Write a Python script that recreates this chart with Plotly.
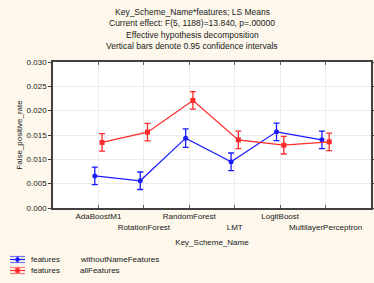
import plotly.graph_objects as go

categories = ["AdaBoostM1", "RotationForest", "RandomForest", "LMT", "LogitBoost", "MultilayerPerceptron"]
without_vals = [0.0066, 0.0056, 0.01435, 0.0095, 0.01565, 0.0140]
without_err = [0.0018, 0.0018, 0.0019, 0.0018, 0.0018, 0.0018]
all_vals = [0.01347, 0.01558, 0.0221, 0.0140, 0.0129, 0.0136]
all_err = [0.0018, 0.0018, 0.0018, 0.0018, 0.0018, 0.0018]
y_ticks = [0.000, 0.005, 0.010, 0.015, 0.020, 0.025, 0.030]
title_lines = ["Key_Scheme_Name*features; LS Means",
               "Current effect: F(5, 1188)=13.840, p=.00000",
               "Effective hypothesis decomposition",
               "Vertical bars denote 0.95 confidence intervals"]
legend_items = [("features", "withoutNameFeatures", "#1a1aff", "circle"),
                ("features", "allFeatures", "#ff2a2a", "square")]

FONT = "Liberation Sans, Arial, sans-serif"
W, H = 374, 283
L, R, T, B = 53, 3, 62, 75
PW, PH = W - L - R, H - T - B


def px(x):
    return (x - L) / PW


def py(y):
    return (H - B - y) / PH


idx = list(range(len(categories)))
tick_text = [c if i % 2 == 0 else "<br>" + c for i, c in enumerate(categories)]

fig = go.Figure()
fig.add_trace(go.Scatter(
    x=[i - 0.08 for i in idx], y=without_vals,
    error_y=dict(type="data", array=without_err, visible=True, color="#1a1aff", thickness=1.3, width=3),
    mode="lines+markers", name="withoutNameFeatures",
    line=dict(color="#1a1aff", width=1.2),
    marker=dict(symbol="circle", size=5, color="#1a1aff"),
))
fig.add_trace(go.Scatter(
    x=[i + 0.08 for i in idx], y=all_vals,
    error_y=dict(type="data", array=all_err, visible=True, color="#ff2a2a", thickness=1.3, width=3),
    mode="lines+markers", name="allFeatures",
    line=dict(color="#ff2a2a", width=1.2),
    marker=dict(symbol="square", size=5, color="#ff2a2a"),
))

annotations = []
for k, line in enumerate(title_lines):
    annotations.append(dict(text=line, xref="paper", yref="paper", x=px(192), y=py(12 + 11.5 * k),
                            xanchor="center", yanchor="middle", showarrow=False,
                            font=dict(family=FONT, size=8.5, color="#202020")))

shapes = []
for k, (lab, name, col, sym) in enumerate(legend_items):
    yc = 259.5 + 11 * k
    for dy, op in [(-3, 0.6), (0, 1.0), (3, 0.6)]:
        shapes.append(dict(type="line", xref="paper", yref="paper", x0=px(10), x1=px(25),
                           y0=py(yc + dy), y1=py(yc + dy), line=dict(color=col, width=1.2), opacity=op))
    shapes.append(dict(type="line", xref="paper", yref="paper", x0=px(17.5), x1=px(17.5),
                       y0=py(yc - 3), y1=py(yc + 3), line=dict(color=col, width=1.2)))
    if sym == "circle":
        shapes.append(dict(type="circle", xref="paper", yref="paper", x0=px(15.5), x1=px(19.5),
                           y0=py(yc - 2), y1=py(yc + 2), fillcolor=col, line=dict(color=col, width=0.5)))
    else:
        shapes.append(dict(type="rect", xref="paper", yref="paper", x0=px(15.5), x1=px(19.5),
                           y0=py(yc - 2), y1=py(yc + 2), fillcolor=col, line=dict(color=col, width=0.5)))
    annotations.append(dict(text=lab, xref="paper", yref="paper", x=px(29), y=py(yc),
                            xanchor="left", yanchor="middle", showarrow=False,
                            font=dict(family=FONT, size=8, color="#202020")))
    annotations.append(dict(text=name, xref="paper", yref="paper", x=px(78), y=py(yc),
                            xanchor="left", yanchor="middle", showarrow=False,
                            font=dict(family=FONT, size=8, color="#202020")))

fig.update_layout(
    width=W, height=H,
    paper_bgcolor="#fdf8eb", plot_bgcolor="#ffffff",
    margin=dict(l=L, r=R, t=T, b=B, autoexpand=False),
    font=dict(family=FONT, size=8, color="#202020"),
    showlegend=False,
    annotations=annotations,
    shapes=shapes,
)
fig.update_xaxes(
    range=[-1, 6], tickmode="array", tickvals=idx, ticktext=tick_text, tickangle=0,
    showline=True, linecolor="#404040", linewidth=1.5, mirror="ticks",
    ticks="inside", ticklen=3, tickcolor="#606060",
    showgrid=True, gridcolor="#ececec", gridwidth=1, zeroline=False,
    title=dict(text="Key_Scheme_Name", font=dict(family=FONT, size=8), standoff=9),
    tickfont=dict(family=FONT, size=8), automargin=False,
)
fig.update_yaxes(
    range=[0, 0.030], tickmode="array", tickvals=y_ticks, tickformat=".3f",
    showline=True, linecolor="#404040", linewidth=1.5, mirror="ticks",
    ticks="outside", ticklen=3, tickcolor="#404040",
    showgrid=True, gridcolor="#ececec", gridwidth=1, zeroline=False,
    title=dict(text="False_positive_rate", font=dict(family=FONT, size=8), standoff=3),
    tickfont=dict(family=FONT, size=8), automargin=False,
)

fig.write_html("out.html", config={"displayModeBar": False},
               post_script="document.body.style.margin='0';")
